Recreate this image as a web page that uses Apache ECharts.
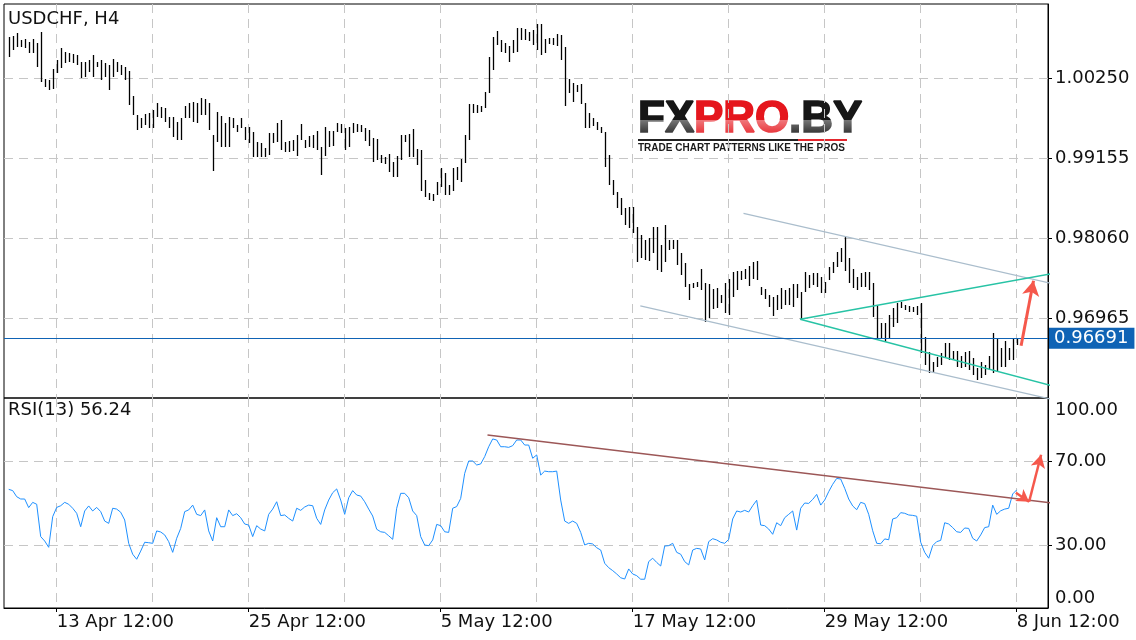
<!DOCTYPE html>
<html><head><meta charset="utf-8">
<script src="https://cdn.jsdelivr.net/npm/echarts@6/dist/echarts.min.js"></script>
<style>html,body{margin:0;padding:0;background:#fff}#c{width:1136px;height:640px}</style>
</head><body><div id="c"></div><script>
// ---------- data (H4 bars: index 0..252) ----------
const symbolName = 'USDCHF, H4';
const rsiTitle = 'RSI(13) 56.24';
const barHigh = [1.00820,1.00830,1.00866,1.00775,1.00784,1.00752,1.00784,1.00729,1.00880,1.00237,
1.00228,1.00374,1.00501,1.00661,1.00615,1.00592,1.00583,1.00570,1.00478,1.00478,
1.00501,1.00570,1.00478,1.00501,1.00456,1.00433,1.00510,1.00478,1.00433,1.00410,
1.00355,1.00009,0.99749,0.99703,0.99762,0.99781,0.99817,0.99918,0.99863,0.99840,
0.99726,0.99726,0.99658,0.99703,0.99872,0.99918,0.99931,0.99908,0.99977,0.99963,
0.99908,0.99475,0.99794,0.99735,0.99635,0.99717,0.99703,0.99612,0.99703,0.99589,
0.99589,0.99521,0.99384,0.99370,0.99293,0.99498,0.99507,0.99635,0.99680,0.99384,
0.99398,0.99407,0.99475,0.99626,0.99407,0.99462,0.99475,0.99535,0.99316,0.99580,
0.99535,0.99530,0.99644,0.99626,0.99566,0.99589,0.99644,0.99626,0.99612,0.99566,
0.99544,0.99430,0.99416,0.99202,0.99179,0.99215,0.99110,0.99188,0.99475,0.99475,
0.99489,0.99553,0.99279,0.99270,0.98860,0.98677,0.98668,0.98837,0.99019,0.98951,
0.98791,0.99019,0.99042,0.99142,0.99475,0.99899,0.99899,0.99886,0.99872,1.00068,
1.00547,1.00811,1.00898,1.00775,1.00729,1.00693,1.00775,1.00934,1.00934,1.00921,
1.00889,1.00912,1.00994,1.00994,1.00784,1.00798,1.00798,1.00857,1.00843,1.00684,
1.00237,1.00182,1.00159,1.00173,0.99908,0.99772,0.99703,0.99658,0.99589,0.99521,
0.99202,0.98860,0.98700,0.98607,0.98470,0.98493,0.98493,0.98220,0.98106,0.98037,
0.98060,0.98220,0.98220,0.97969,0.98242,0.98037,0.98037,0.98037,0.97855,0.97718,
0.97435,0.97444,0.97467,0.97636,0.97444,0.97435,0.97362,0.97376,0.97285,0.97444,
0.97499,0.97604,0.97618,0.97618,0.97636,0.97682,0.97741,0.97750,0.97390,0.97362,
0.97285,0.97253,0.97285,0.97376,0.97353,0.97376,0.97435,0.97435,0.97330,0.97604,
0.97558,0.97581,0.97590,0.97536,0.97467,0.97663,0.97741,0.97878,0.97923,0.98074,
0.97786,0.97636,0.97536,0.97590,0.97604,0.97604,0.97444,0.97148,0.96897,0.96897,
0.97011,0.97102,0.97171,0.97194,0.97148,0.97134,0.97125,0.97134,0.97171,0.96715,
0.96510,0.96373,0.96441,0.96487,0.96624,0.96624,0.96523,0.96523,0.96450,0.96510,
0.96523,0.96418,0.96282,0.96373,0.96327,0.96450,0.96769,0.96692,0.96555,0.96660,
0.96555,0.96692,0.96692];
const barLow = [1.00547,1.00638,1.00684,1.00674,1.00661,1.00592,1.00592,1.00410,1.00205,1.00127,
1.00091,1.00100,1.00328,1.00387,1.00456,1.00478,1.00456,1.00433,1.00250,1.00264,
1.00342,1.00273,1.00410,1.00228,1.00273,1.00091,1.00273,1.00342,1.00296,1.00228,
0.99886,0.99749,0.99544,0.99566,0.99612,0.99566,0.99566,0.99726,0.99703,0.99658,
0.99566,0.99452,0.99407,0.99407,0.99703,0.99703,0.99658,0.99635,0.99749,0.99749,
0.99544,0.98987,0.99384,0.99306,0.99306,0.99316,0.99566,0.99521,0.99566,0.99407,
0.99361,0.99179,0.99179,0.99179,0.99179,0.99202,0.99361,0.99384,0.99270,0.99247,
0.99247,0.99261,0.99188,0.99407,0.99293,0.99316,0.99293,0.99270,0.98928,0.99188,
0.99316,0.99325,0.99521,0.99498,0.99270,0.99316,0.99498,0.99521,0.99521,0.99398,
0.99325,0.99110,0.99133,0.99088,0.99079,0.98974,0.98905,0.98905,0.99133,0.99384,
0.99179,0.99179,0.99065,0.98714,0.98622,0.98586,0.98577,0.98654,0.98759,0.98654,
0.98654,0.98714,0.98860,0.98837,0.99088,0.99407,0.99772,0.99772,0.99794,0.99840,
1.00054,1.00364,1.00706,1.00615,1.00592,1.00478,1.00592,1.00615,1.00775,1.00775,
1.00766,1.00706,1.00638,1.00570,1.00592,1.00720,1.00706,1.00693,1.00501,0.99872,
1.00045,0.99931,1.00068,0.99899,0.99566,0.99566,0.99598,0.99544,0.99498,0.99042,
0.98791,0.98654,0.98470,0.98379,0.98242,0.98197,0.98128,0.97741,0.97786,0.97764,
0.97755,0.97855,0.97627,0.97604,0.97741,0.97900,0.97910,0.97695,0.97558,0.97399,
0.97216,0.97376,0.97390,0.97353,0.96920,0.96966,0.97089,0.97102,0.97180,0.97034,
0.97011,0.97262,0.97353,0.97490,0.97499,0.97408,0.97499,0.97490,0.97285,0.97226,
0.97125,0.96998,0.97080,0.97089,0.97148,0.97148,0.97125,0.97239,0.96952,0.97330,
0.97376,0.97422,0.97399,0.97308,0.97308,0.97490,0.97581,0.97663,0.97741,0.97618,
0.97444,0.97376,0.97353,0.97390,0.97390,0.97353,0.96988,0.96692,0.96692,0.96646,
0.96692,0.96852,0.96897,0.97102,0.97080,0.97057,0.97057,0.97011,0.96487,0.96327,
0.96213,0.96236,0.96304,0.96327,0.96441,0.96396,0.96396,0.96304,0.96282,0.96304,
0.96259,0.96190,0.96122,0.96145,0.96190,0.96259,0.96222,0.96236,0.96304,0.96304,
0.96396,0.96396,0.96601];
const rsiValues = [56.5,55.9,53.0,51.9,51.9,47.8,50.3,49.4,34.0,31.9,
28.9,43.5,47.9,48.7,50.3,49.4,47.5,45.1,38.7,46.2,
48.6,46.2,47.9,45.9,41.4,40.3,47.5,47.1,45.6,41.9,
30.8,25.6,23.2,27.1,31.3,31.1,30.8,36.7,36.2,34.8,
31.6,26.5,33.2,37.9,45.9,46.7,49.0,44.6,44.0,46.7,
36.7,31.9,43.0,38.7,38.7,46.7,44.0,44.9,43.0,40.0,
39.5,34.0,39.2,37.6,36.7,44.6,47.1,50.6,44.0,44.3,
42.7,41.4,47.5,46.5,48.1,49.0,48.7,42.7,39.8,46.7,
51.4,54.9,56.7,51.4,44.6,52.5,55.9,53.8,53.3,50.6,
47.1,43.8,37.5,36.3,36.0,34.4,32.7,47.5,54.6,54.6,
52.5,46.2,44.0,34.0,30.0,29.7,32.4,39.8,39.2,36.3,
36.0,47.5,48.3,52.2,64.1,70.0,70.0,68.1,68.6,72.1,
76.8,80.5,80.0,76.8,76.8,76.5,77.3,80.0,80.0,77.6,
77.6,71.3,72.9,63.3,65.2,64.9,64.9,65.2,51.4,41.4,
40.3,41.4,40.3,36.0,30.0,30.8,30.5,28.7,27.6,21.3,
19.2,17.8,16.2,14.4,13.8,18.6,16.2,15.4,13.7,13.7,
22.1,23.7,21.7,20.0,29.5,29.7,30.8,26.5,25.6,22.1,
20.5,27.6,28.4,28.1,22.9,31.6,33.0,32.4,31.3,30.8,
32.7,42.4,46.2,45.7,46.5,45.7,48.7,51.3,39.5,39.2,
37.6,35.1,40.6,39.2,43.0,44.6,46.2,37.1,47.5,50.0,
49.8,51.7,54.1,49.0,51.4,55.4,58.9,61.7,61.4,57.0,
51.9,48.6,46.8,50.3,49.7,44.6,36.8,30.8,30.6,32.9,
32.5,42.4,43.0,45.4,45.1,44.3,44.1,43.7,31.3,26.5,
23.7,29.7,31.6,32.2,40.6,40.0,38.3,36.3,36.0,38.1,
37.9,33.2,31.9,34.8,38.3,38.7,49.0,44.6,46.3,47.1,
47.5,54.3,56.24];
const timeLabels = ['13 Apr 12:00','25 Apr 12:00','5 May 12:00','17 May 12:00','29 May 12:00','8 Jun 12:00'];
const labelBars = [12,60,108,156,204,252];
const gridBars = [12,36,60,84,108,132,156,180,204,228,252];
const priceTicks = [0.96965,0.98060,0.99155,1.00250];
const rsiLevels = [0,30,70,100];
const rsiGridLevels = [30,70];
const lastPrice = 0.96691;
// drawn objects: [bar index, value]
const channelUpper = [[183.7,0.98402],[281.8,0.97179]];
const channelLower = [[157.9,0.97134],[260.3,0.95861]];
const triangleUpper = [[197.85,0.96952],[266.9,0.97636]];
const triangleLower = [[197.85,0.96952],[262.2,0.96021]];
const priceArrow = [[253.1,0.96590],[256.2,0.97480]];
const rsiTrend = [[119.7,82.4],[266.95,48.6]];
const rsiArrow1 = [[251.8,54.9],[255.1,50.6]];
const rsiArrow2 = [[255.1,50.6],[258.1,73.0]];

// ---------- chart ----------
const FONT = 'DejaVu Sans';
const GRID_C = '#c6c6c6';
const DASH = [9,6];
const X_MIN = -1.175, X_MAX = 259.825;
const P_MIN = 0.95874, P_MAX = 1.01267;
const TXT = '#111';
const RED = '#f5584c';
const BLUE = '#0f63b5';

const chart = echarts.init(document.getElementById('c'), null, {renderer:'canvas'});

const splitX = {show:true, lineStyle:{color:GRID_C, type:DASH, width:1}};
const darkGrad = () => new echarts.graphic.LinearGradient(0,0,0,1,[{offset:0,color:'rgba(255,255,255,0.42)'},{offset:1,color:'rgba(255,255,255,0.05)'}]);
const option = {
  animation:false,
  backgroundColor:'#ffffff',
  textStyle:{fontFamily:FONT},
  grid:[
    {left:4, right:88, top:4, height:394, show:true, borderColor:'#000', borderWidth:1, backgroundColor:'transparent'},
    {left:4, right:88, top:398, height:210, show:true, borderColor:'#000', borderWidth:1, backgroundColor:'transparent'}
  ],
  xAxis:[
    {type:'value', gridIndex:0, min:X_MIN, max:X_MAX, position:'bottom',
     axisLine:{show:false, onZero:false}, axisLabel:{show:false},
     axisTick:{show:false, customValues:gridBars}, splitLine:splitX},
    {type:'value', gridIndex:1, min:X_MIN, max:X_MAX, position:'top',
     axisLine:{show:false, onZero:false}, axisLabel:{show:false},
     axisTick:{show:false, customValues:gridBars}, splitLine:splitX},
    {type:'value', gridIndex:1, min:X_MIN, max:X_MAX, position:'bottom',
     axisLine:{show:true, onZero:false, lineStyle:{color:'#000', width:1}},
     axisTick:{show:true, customValues:labelBars, length:4, lineStyle:{color:'#000'}},
     axisLabel:{show:true, customValues:labelBars, align:'left', margin:5, fontSize:18, fontFamily:FONT, color:TXT,
       formatter:v => { const k = labelBars.indexOf(Math.round(v)); return k >= 0 ? timeLabels[k] : ''; }},
     splitLine:{show:false}}
  ],
  yAxis:[
    {type:'value', gridIndex:0, position:'right', min:P_MIN, max:P_MAX, scale:true,
     axisLine:{show:true, onZero:false, lineStyle:{color:'#000', width:1}},
     axisTick:{show:true, customValues:priceTicks, length:4, lineStyle:{color:'#000'}},
     axisLabel:{customValues:priceTicks, margin:7, fontSize:18, fontFamily:FONT, color:TXT,
       formatter:v => v.toFixed(5)},
     splitLine:{show:true, lineStyle:{color:GRID_C, type:DASH, width:1}}},
    {type:'value', gridIndex:1, position:'right', min:0, max:100,
     axisLine:{show:true, onZero:false, lineStyle:{color:'#000', width:1}},
     axisTick:{show:true, customValues:rsiGridLevels, length:4, lineStyle:{color:'#000'}},
     axisLabel:{customValues:rsiLevels, margin:7, fontSize:18, fontFamily:FONT, color:TXT,
       formatter:v => v === 100 ? '{t|' + v.toFixed(2) + '}' : (v === 0 ? '{b|' + v.toFixed(2) + '}' : v.toFixed(2)),
       rich:{
         t:{padding:[25,0,0,0], fontSize:18, fontFamily:FONT, color:TXT},
         b:{padding:[0,0,20,0], fontSize:18, fontFamily:FONT, color:TXT}
       }},
     splitLine:{show:true, lineStyle:{color:GRID_C, type:DASH, width:1}}}
  ],
  series:[
    {
      type:'custom', name:'bars', xAxisIndex:0, yAxisIndex:0, z:3,
      data: barHigh.map((h,i) => [i, barLow[i], h]),
      encode:{x:0, y:[1,2]},
      renderItem:(params, api) => {
        const x = api.value(0);
        const lo = api.coord([x, api.value(1)]);
        const hi = api.coord([x, api.value(2)]);
        const px = Math.round(lo[0]) + 0.5;
        let y1 = Math.round(lo[1]), y2 = Math.round(hi[1]);
        if (y1 - y2 < 2) y2 = y1 - 2;
        return {type:'line', shape:{x1:px, y1:y1, x2:px, y2:y2}, style:{stroke:'#000', lineWidth:1.3}};
      }
    },
    {
      type:'line', name:'RSI', xAxisIndex:1, yAxisIndex:1, z:3,
      data: rsiValues.map((v,i) => [i, v]),
      showSymbol:false, symbol:'none',
      lineStyle:{color:'#1e90ff', width:1}
    },
    {
      type:'line', name:'channelUpper', xAxisIndex:0, yAxisIndex:0, z:4, clip:false,
      data: channelUpper, symbol:'none', lineStyle:{color:'#aabdcc', width:1.2}
    },
    {
      type:'line', name:'channelLower', xAxisIndex:0, yAxisIndex:0, z:4, clip:false,
      data: channelLower, symbol:'none', lineStyle:{color:'#aabdcc', width:1.2}
    },
    {
      type:'line', name:'triangleUpper', xAxisIndex:0, yAxisIndex:0, z:4, clip:false,
      data: triangleUpper, symbol:'none', lineStyle:{color:'#27c3a5', width:1.5}
    },
    {
      type:'line', name:'triangleLower', xAxisIndex:0, yAxisIndex:0, z:4, clip:false,
      data: triangleLower, symbol:'none', lineStyle:{color:'#27c3a5', width:1.5},
      markLine:{
        silent:true, symbol:['none','none'], animation:false, precision:5,
        label:{show:false},
        data:[
          {yAxis:lastPrice, symbol:'none',
           lineStyle:{color:BLUE, width:1, type:'solid'},
           label:{show:true, position:'end', distance:1, formatter:lastPrice.toFixed(5),
             backgroundColor:BLUE, color:'#fff', padding:[2,6,1,5], fontSize:18, fontFamily:FONT}},
          [{coord:priceArrow[0], symbol:'none', lineStyle:{color:RED, width:3, type:'solid'}, label:{show:false}},
           {coord:priceArrow[1], symbol:'arrow', symbolSize:[13,15]}]
        ]
      }
    },
    {
      type:'line', name:'rsiTrend', xAxisIndex:1, yAxisIndex:1, z:4, clip:false,
      data: rsiTrend, symbol:'none', lineStyle:{color:'#9c5757', width:1.5},
      markLine:{
        silent:true, symbol:['none','none'], animation:false, precision:2,
        label:{show:false},
        data:[
          [{coord:rsiArrow1[0], symbol:'none', lineStyle:{color:RED, width:2.5, type:'solid'}, label:{show:false}},
           {coord:rsiArrow1[1], symbol:'arrow', symbolSize:[11,12]}],
          [{coord:rsiArrow2[0], symbol:'none', lineStyle:{color:RED, width:2.5, type:'solid'}, label:{show:false}},
           {coord:rsiArrow2[1], symbol:'arrow', symbolSize:[11,13]}]
        ]
      }
    }
  ],
  graphic:[
    {type:'text', x:8, y:19.5, z:10, style:{text:symbolName, fontSize:18, fontFamily:FONT, fill:TXT, verticalAlign:'middle', align:'left'}},
    {type:'text', x:8, y:410.5, z:10, style:{text:rsiTitle, fontSize:18, fontFamily:FONT, fill:TXT, verticalAlign:'middle', align:'left'}},
    {type:'group', z:10, children:[
      {type:'rect', shape:{x:636, y:99, width:228, height:57}, style:{fill:'#fff'}},
      {type:'text', x:638, y:119.5, style:{text:'FX', font:'bold 44px "Liberation Sans"', verticalAlign:'middle', align:'left',
        fill:'#161616', stroke:'#161616', lineWidth:1.6}},
      {type:'text', x:694, y:119.5, style:{text:'PRO', font:'bold 44px "Liberation Sans"', verticalAlign:'middle', align:'left',
        fill:'#e5161d', stroke:'#e5161d', lineWidth:1.6}},
      {type:'text', x:789, y:119.5, style:{text:'.BY', font:'bold 44px "Liberation Sans"', verticalAlign:'middle', align:'left',
        fill:'#161616', stroke:'#161616', lineWidth:1.6}},
      {type:'rect', shape:{x:636, y:120, width:228, height:17}, style:{fill:darkGrad()}},
      {type:'rect', shape:{x:638, y:139, width:160, height:2}, style:{fill:'#222'}},
      {type:'rect', shape:{x:798, y:139, width:49, height:2}, style:{fill:'#e3262d'}},
      {type:'text', x:638, y:148, style:{text:'TRADE CHART PATTERNS LIKE THE PROS', font:'bold 10px "Liberation Sans"', fill:'#1a1a1a', verticalAlign:'middle', align:'left'}}
    ]}
  ]
};
chart.setOption(option);
</script></body></html>
